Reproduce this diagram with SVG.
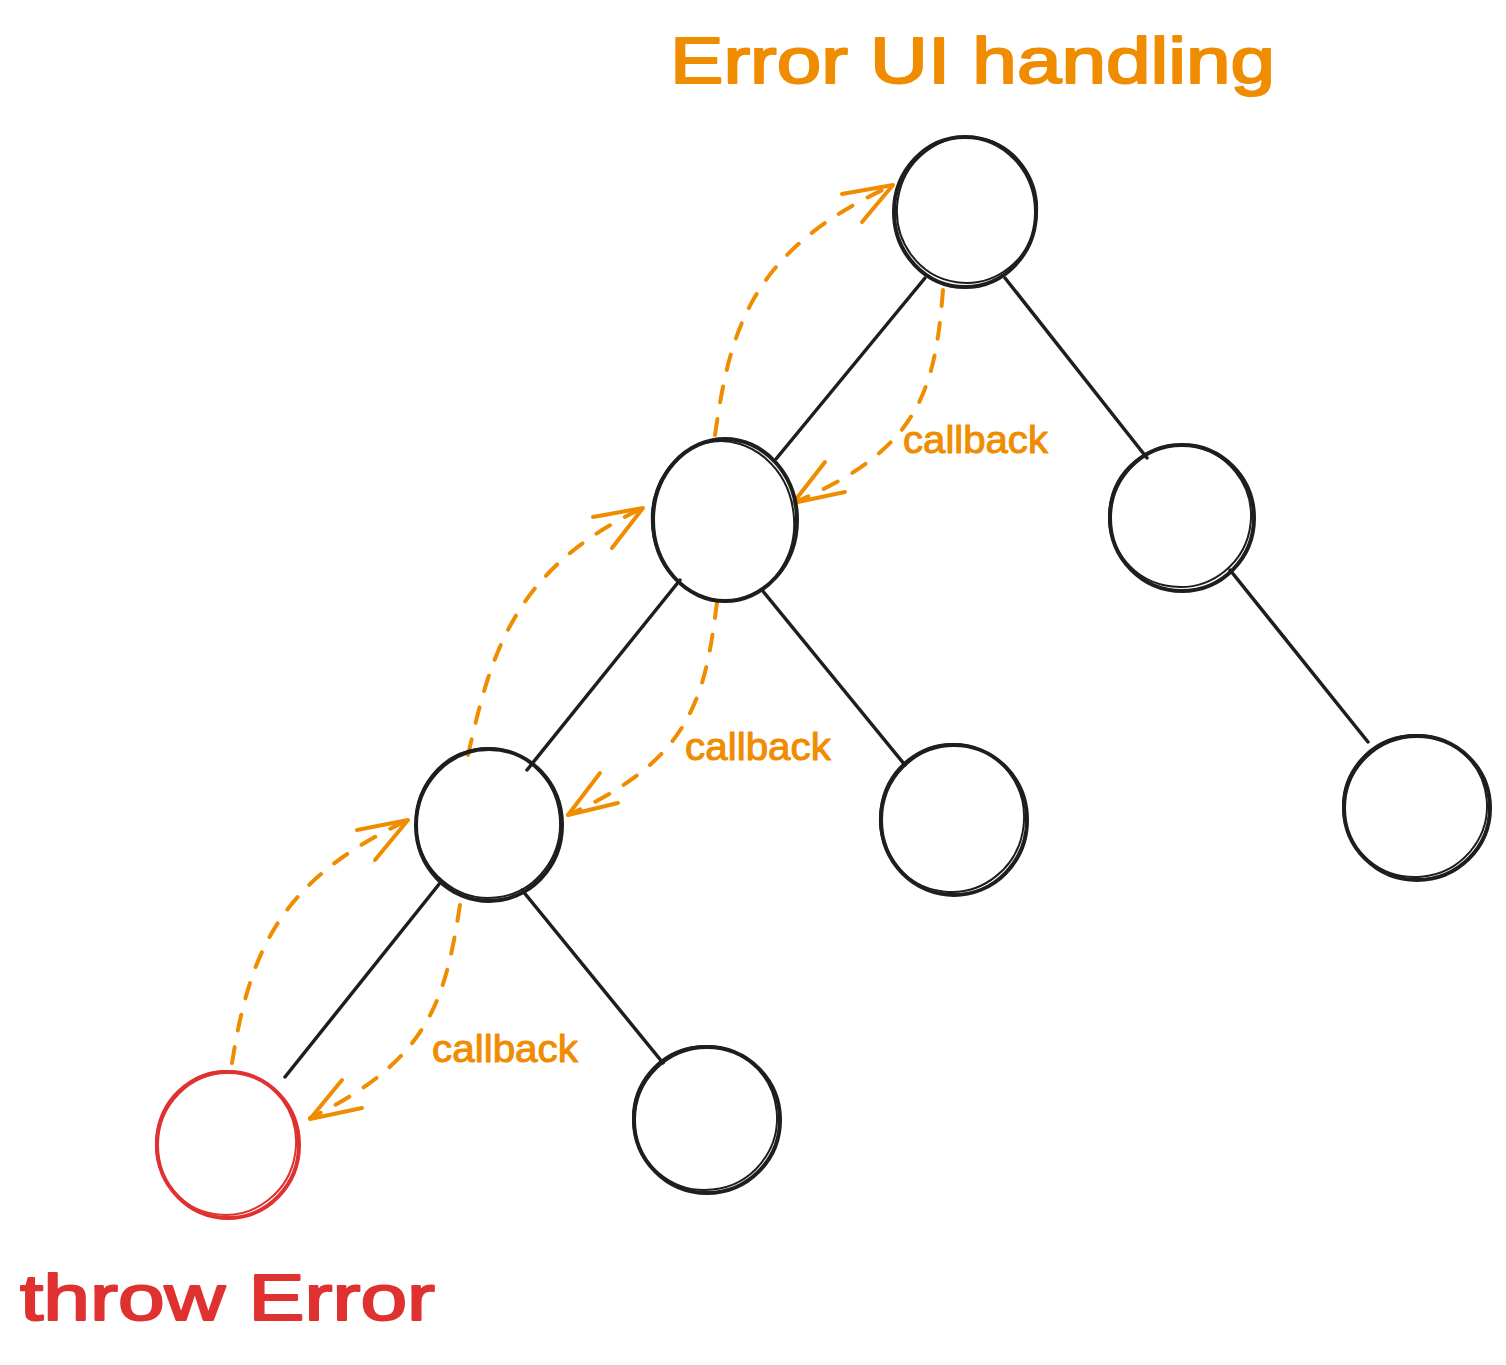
<svg xmlns="http://www.w3.org/2000/svg" width="1506" height="1365" viewBox="0 0 1506 1365">
<style>
.n1{fill:none;stroke:#1e1e1e;stroke-width:4}
.n2{fill:none;stroke:#1e1e1e;stroke-width:2}
.r1{fill:none;stroke:#e03131;stroke-width:4}
.r2{fill:none;stroke:#e03131;stroke-width:2}
.edge{stroke:#1e1e1e;stroke-width:3.5;stroke-linecap:round}
.flow{fill:none;stroke:#f08c00;stroke-width:4;stroke-dasharray:16 17;stroke-linecap:round}
.head{fill:none;stroke:#f08c00;stroke-width:4;stroke-linecap:round;stroke-linejoin:round}
.lbl{font-family:"Liberation Sans","DejaVu Sans",sans-serif;fill:#f08c00;stroke:#f08c00;stroke-width:1;stroke-linejoin:round;font-size:38px}
.title{font-family:"Liberation Sans","DejaVu Sans",sans-serif;font-size:64px;stroke-width:2;stroke-linejoin:round}
</style>
<rect width="1506" height="1365" fill="#ffffff"/>
<g id="connectors">
<line class="edge" x1="925" y1="278" x2="776" y2="459"/>
<line class="edge" x1="1005" y1="278" x2="1147" y2="458"/>
<line class="edge" x1="680" y1="580" x2="527" y2="770"/>
<line class="edge" x1="762" y1="590" x2="905" y2="765"/>
<line class="edge" x1="1230" y1="570" x2="1368" y2="742"/>
<line class="edge" x1="440" y1="883" x2="285" y2="1077"/>
<line class="edge" x1="522" y1="890" x2="663" y2="1063"/>
<path class="flow" d="M 232 1063 C 250 950, 280 880, 408 820"/>
<polyline class="head" points="357,830 408,820 375,860"/>
<path class="flow" d="M 460 905 C 445 1000, 430 1060, 310 1118"/>
<polyline class="head" points="342,1080 310,1119 362,1108"/>
<path class="flow" d="M 468 755 C 490 660, 510 570, 643 508"/>
<polyline class="head" points="593,517 643,508 612,548"/>
<path class="flow" d="M 717 602 C 705 700, 690 760, 568 815"/>
<polyline class="head" points="600,773 568,815 618,803"/>
<path class="flow" d="M 715 435 C 730 330, 750 250, 893 185"/>
<polyline class="head" points="842,194 893,185 862,222"/>
<path class="flow" d="M 943 290 C 935 390, 920 450, 793 503"/>
<polyline class="head" points="825,462 793,503 845,492"/>
<text class="lbl" x="903" y="453" textLength="145" lengthAdjust="spacingAndGlyphs">callback</text>
<text class="lbl" x="685" y="760" textLength="146" lengthAdjust="spacingAndGlyphs">callback</text>
<text class="lbl" x="432" y="1062" textLength="146" lengthAdjust="spacingAndGlyphs">callback</text>
</g>
<g id="root">
<ellipse class="n1" cx="965" cy="212" rx="71" ry="75"/>
<ellipse class="n2" cx="967" cy="210" rx="70" ry="73" transform="rotate(8 967 210)"/>
</g>
<g id="n2left">
<ellipse class="n1" cx="725" cy="520" rx="72" ry="81"/>
<ellipse class="n2" cx="723" cy="521" rx="71" ry="80" transform="rotate(-7 723 521)"/>
</g>
<g id="n2right">
<ellipse class="n1" cx="1182" cy="518" rx="72" ry="73"/>
<ellipse class="n2" cx="1180" cy="516" rx="71" ry="71" transform="rotate(6 1180 516)"/>
</g>
<g id="n3left">
<ellipse class="n1" cx="489" cy="825" rx="73" ry="76"/>
<ellipse class="n2" cx="488" cy="823" rx="72" ry="75" transform="rotate(-6 488 823)"/>
</g>
<g id="n3mid">
<ellipse class="n1" cx="954" cy="820" rx="73" ry="75"/>
<ellipse class="n2" cx="952" cy="818" rx="72" ry="74" transform="rotate(7 952 818)"/>
</g>
<g id="n3right">
<ellipse class="n1" cx="1417" cy="808" rx="73" ry="72"/>
<ellipse class="n2" cx="1415" cy="806" rx="72" ry="71" transform="rotate(-5 1415 806)"/>
</g>
<g id="n4error">
<ellipse class="r1" cx="228" cy="1145" rx="71" ry="73"/>
<ellipse class="r2" cx="226" cy="1143" rx="70" ry="72" transform="rotate(8 226 1143)"/>
</g>
<g id="n4right">
<ellipse class="n1" cx="707" cy="1120" rx="73" ry="73"/>
<ellipse class="n2" cx="705" cy="1118" rx="72" ry="72" transform="rotate(-6 705 1118)"/>
</g>
<g id="titles">
<text class="title" x="670" y="83" fill="#f08c00" stroke="#f08c00" textLength="605" lengthAdjust="spacingAndGlyphs">Error UI handling</text>
<text class="title" x="20" y="1320" fill="#e03131" stroke="#e03131" textLength="415" lengthAdjust="spacingAndGlyphs">throw Error</text>
</g>
</svg>
